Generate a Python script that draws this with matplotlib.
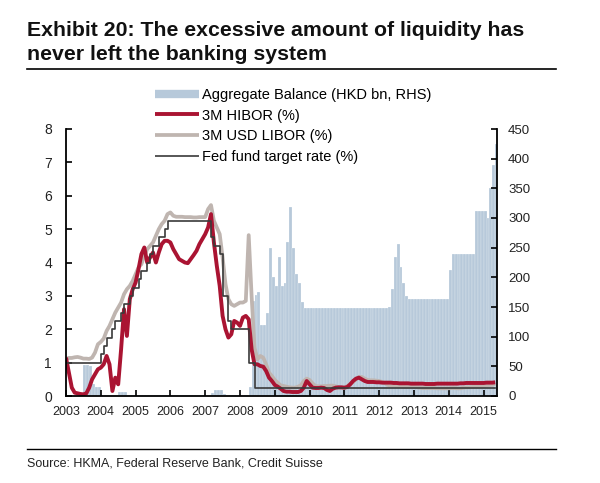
import matplotlib
matplotlib.use("Agg")
import matplotlib.pyplot as plt
from matplotlib.lines import Line2D
import pandas as pd

plt.rcParams['font.family'] = ['Liberation Sans', 'DejaVu Sans']

# ---- data (monthly, Jul 2003 .. Nov 2015) ----
start_month = '2003-07-01'
end_month = '2015-11-01'
years = [2003, 2004, 2005, 2006, 2007, 2008, 2009, 2010, 2011, 2012, 2013, 2014, 2015]
year_labels = ['2003', '2004', '2005', '2006', '2007', '2008', '2009', '2010',
               '2011', '2012', '2013', '2014', '2015']
left_ticks = [0, 1, 2, 3, 4, 5, 6, 7, 8]
right_ticks = [0, 50, 100, 150, 200, 250, 300, 350, 400, 450]

agg_balance = [
    0.5, 0.5, 0.5, 0.5, 0.5, 1.0,
    52, 52, 50, 20, 15, 15, 2, 2, 2, 1, 1, 1,
    6, 7, 7, 1, 1.5, 1.5, 1.5, 1.5, 1.5, 1.5, 1.5, 1.5,
    1.5, 1.5, 1.5, 1.5, 1.5, 1.5, 1.5, 1.5, 1.5, 1.5, 1.5, 1.5,
    1.5, 1.5, 1.5, 1.5, 1.5, 1.5, 1.5, 2, 5, 10, 10, 10,
    3, 2, 2, 2, 2, 2, 2, 2, 2, 15, 160, 170,
    175, 120, 120, 140, 250, 200, 185, 235, 185, 190, 260, 318,
    250, 205, 190, 158, 148, 148, 148, 148, 148, 148, 148, 148,
    148, 148, 148, 148, 148, 148, 148, 148, 148, 148, 148, 148,
    148, 148, 148, 148, 148, 148, 148, 148, 148, 150, 180, 235,
    257, 218, 190, 168, 163, 163, 163, 163, 163, 163, 163, 163,
    163, 163, 163, 163, 163, 163, 212, 239, 239, 239, 239, 239,
    239, 239, 239, 311, 311, 311, 311, 300, 350, 390, 425,
]

hibor_3m = [
    1.15, 0.70, 0.25, 0.10, 0.08, 0.06,
    0.05, 0.08, 0.25, 0.50, 0.65, 0.80, 0.85, 0.95, 1.20, 0.95, 0.15, 0.55,
    0.35, 1.40, 2.60, 1.80, 2.90, 3.20, 3.40, 3.80, 4.25, 4.45, 4.00, 4.15,
    4.30, 4.00, 4.30, 4.55, 4.65, 4.65, 4.60, 4.40, 4.25, 4.10, 4.05, 4.00,
    3.98, 4.10, 4.22, 4.35, 4.55, 4.70, 4.85, 5.05, 5.45, 4.60, 3.90, 3.30,
    2.40, 2.00, 1.75, 1.85, 2.25, 2.20, 2.10, 2.35, 2.40, 2.30, 1.40, 0.95,
    0.95, 0.90, 0.88, 0.75, 0.55, 0.45, 0.33, 0.28, 0.22, 0.15, 0.13, 0.13,
    0.12, 0.12, 0.12, 0.15, 0.25, 0.45, 0.35, 0.25, 0.24, 0.24, 0.25, 0.24,
    0.18, 0.15, 0.22, 0.25, 0.26, 0.26, 0.25, 0.27, 0.35, 0.45, 0.52, 0.55,
    0.50, 0.45, 0.42, 0.42, 0.42, 0.41, 0.41, 0.40, 0.40, 0.40, 0.40, 0.39,
    0.39, 0.38, 0.38, 0.38, 0.38, 0.37, 0.37, 0.37, 0.37, 0.37, 0.36, 0.36,
    0.36, 0.36, 0.37, 0.37, 0.37, 0.37, 0.37, 0.37, 0.37, 0.37, 0.38, 0.38,
    0.39, 0.39, 0.39, 0.39, 0.39, 0.39, 0.39, 0.40, 0.40, 0.40, 0.41,
]

usd_libor_3m = [
    1.12, 1.14, 1.14, 1.16, 1.17, 1.15,
    1.12, 1.12, 1.11, 1.15, 1.30, 1.55, 1.62, 1.72, 1.95, 2.10, 2.30, 2.50,
    2.65, 2.80, 3.05, 3.20, 3.30, 3.45, 3.65, 3.85, 3.95, 4.20, 4.40, 4.50,
    4.60, 4.80, 5.00, 5.15, 5.25, 5.45, 5.50, 5.40, 5.37, 5.37, 5.37, 5.36,
    5.36, 5.36, 5.35, 5.35, 5.36, 5.36, 5.36, 5.60, 5.72, 5.25, 5.05, 4.85,
    4.15, 3.35, 2.90, 2.75, 2.70, 2.75, 2.80, 2.80, 2.85, 4.82, 3.00, 1.45,
    1.10, 1.20, 1.15, 0.95, 0.70, 0.60, 0.48, 0.40, 0.32, 0.30, 0.28, 0.26,
    0.25, 0.25, 0.28, 0.32, 0.45, 0.52, 0.48, 0.38, 0.30, 0.29, 0.29, 0.30,
    0.30, 0.31, 0.31, 0.29, 0.26, 0.25, 0.25, 0.30, 0.36, 0.42, 0.50, 0.57,
    0.57, 0.52, 0.48, 0.47, 0.47, 0.46, 0.45, 0.42, 0.38, 0.33, 0.31, 0.31,
    0.30, 0.29, 0.28, 0.27, 0.27, 0.27, 0.27, 0.26, 0.25, 0.24, 0.24, 0.24,
    0.24, 0.24, 0.23, 0.23, 0.23, 0.23, 0.23, 0.24, 0.24, 0.23, 0.23, 0.25,
    0.26, 0.26, 0.27, 0.28, 0.28, 0.28, 0.29, 0.31, 0.33, 0.33, 0.37,
]

fed_target = [
    1.00, 1.00, 1.00, 1.00, 1.00, 1.00,
    1.00, 1.00, 1.00, 1.00, 1.00, 1.00, 1.25, 1.50, 1.75, 1.75, 2.00, 2.25,
    2.25, 2.50, 2.75, 2.75, 3.00, 3.25, 3.25, 3.50, 3.75, 3.75, 4.00, 4.25,
    4.50, 4.50, 4.75, 4.75, 5.00, 5.25, 5.25, 5.25, 5.25, 5.25, 5.25, 5.25,
    5.25, 5.25, 5.25, 5.25, 5.25, 5.25, 5.25, 5.25, 4.75, 4.50, 4.50, 4.25,
    3.00, 3.00, 2.25, 2.00, 2.00, 2.00, 2.00, 2.00, 2.00, 1.00, 1.00, 0.25,
    0.25, 0.25, 0.25, 0.25, 0.25, 0.25, 0.25, 0.25, 0.25, 0.25, 0.25, 0.25,
    0.25, 0.25, 0.25, 0.25, 0.25, 0.25, 0.25, 0.25, 0.25, 0.25, 0.25, 0.25,
    0.25, 0.25, 0.25, 0.25, 0.25, 0.25, 0.25, 0.25, 0.25, 0.25, 0.25, 0.25,
    0.25, 0.25, 0.25, 0.25, 0.25, 0.25, 0.25, 0.25, 0.25, 0.25, 0.25, 0.25,
    0.25, 0.25, 0.25, 0.25, 0.25, 0.25, 0.25, 0.25, 0.25, 0.25, 0.25, 0.25,
    0.25, 0.25, 0.25, 0.25, 0.25, 0.25, 0.25, 0.25, 0.25, 0.25, 0.25, 0.25,
    0.25, 0.25, 0.25, 0.25, 0.25, 0.25, 0.25, 0.25, 0.25, 0.25, 0.25,
]

labels = ['Aggregate Balance (HKD bn, RHS)', '3M HIBOR (%)', '3M USD LIBOR (%)',
          'Fed fund target rate (%)']
title_lines = ['Exhibit 20: The excessive amount of liquidity has',
               'never left the banking system']
source = 'Source: HKMA, Federal Reserve Bank, Credit Suisse'

# ---- build ----
months = pd.date_range(start_month, end_month, freq='MS')
t = (months.year + (months.month - 1) / 12.0).to_numpy()
for s in (agg_balance, hibor_3m, usd_libor_3m, fed_target):
    assert len(s) == len(t), (len(s), len(t))

c_bar = '#b7c9da'
c_hibor = '#aa1432'
c_libor = '#bfb5b0'
c_fed = '#3a3a3a'

W, H = 600, 483
fig = plt.figure(figsize=(W / 100, H / 100), dpi=100)
L, R, T, B = 66, 497, 129, 396
ax = fig.add_axes([L / W, (H - B) / H, (R - L) / W, (B - T) / H])
ax2 = ax.twinx()

ax2.bar(t, agg_balance, width=1 / 12, align='edge', color=c_bar,
        edgecolor='white', linewidth=0.15)
ax.plot(t, usd_libor_3m, color=c_libor, lw=2.7, solid_capstyle='butt')
ax.plot(t, hibor_3m, color=c_hibor, lw=2.8, solid_capstyle='butt')
ax.step(t, fed_target, where='post', color=c_fed, lw=1.2)

ax.set_zorder(ax2.get_zorder() + 1)
ax.patch.set_visible(False)

x0, x1 = 2003.5, 2015.885
ax.set_xlim(x0, x1)
ax.set_ylim(0, 8)
ax2.set_ylim(0, 450)
ax.set_xticks([y + 0.5 for y in years])
ax.set_xticklabels(year_labels)
ax.set_yticks(left_ticks)
ax2.set_yticks(right_ticks)

for a in (ax, ax2):
    a.spines['top'].set_visible(False)
    for s in a.spines.values():
        s.set_linewidth(1.3)
        s.set_color('black')
ax.spines['right'].set_visible(False)
ax2.spines['left'].set_visible(False)
ax2.spines['bottom'].set_visible(False)

ax.tick_params(axis='x', direction='in', length=4, width=1.2, labelsize=9, pad=7)
ax.tick_params(axis='y', direction='in', length=4, width=1.2, labelsize=10, pad=10)
ax2.tick_params(axis='y', direction='in', length=4, width=1.2, labelsize=9.5, pad=8)
for lab in ax.get_yticklabels() + ax2.get_yticklabels() + ax.get_xticklabels():
    lab.set_color('#222222')

# legend
handles = [Line2D([], [], color=c_bar, lw=6, solid_capstyle='butt'),
           Line2D([], [], color=c_hibor, lw=2.8, solid_capstyle='butt'),
           Line2D([], [], color=c_libor, lw=2.7, solid_capstyle='butt'),
           Line2D([], [], color=c_fed, lw=1.2, solid_capstyle='butt')]
fig.legend(handles, labels, loc='upper left', bbox_to_anchor=(155 / W, 1 - 88 / H),
           frameon=False, fontsize=10.5, handlelength=3.0, handletextpad=0.25,
           labelspacing=0.45, borderaxespad=0, borderpad=0)

# title and rules
fig.text(27 / W, 1 - 36 / H, title_lines[0], ha='left', va='baseline', fontsize=15.3,
         fontweight='bold', color='#111111')
fig.text(27 / W, 1 - 60 / H, title_lines[1], ha='left', va='baseline', fontsize=15.3,
         fontweight='bold', color='#111111')
fig.add_artist(Line2D([27 / W, 556 / W], [1 - 69 / H, 1 - 69 / H], color='black', lw=1.2))
fig.add_artist(Line2D([27 / W, 556 / W], [1 - 449 / H, 1 - 449 / H], color='black', lw=1.0))
fig.text(27 / W, 1 - 464 / H, source, ha='left', va='center', fontsize=9, color='#222222')

fig.savefig('out.png', dpi=100)
